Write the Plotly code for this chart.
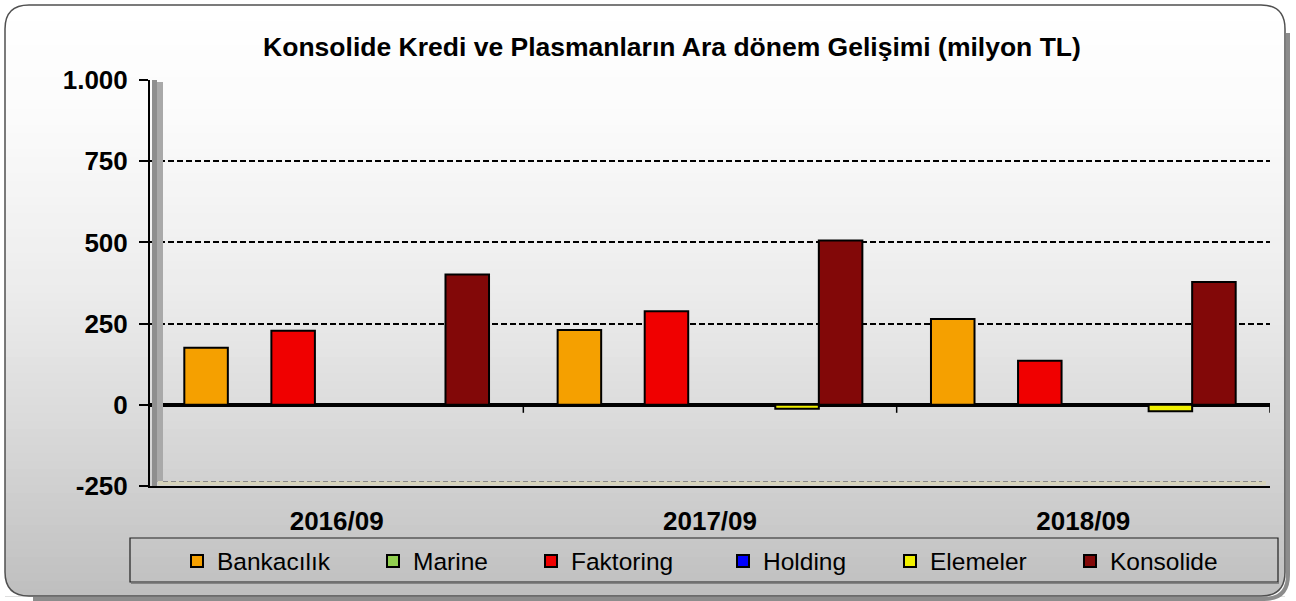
import plotly.graph_objects as go

# Data (milyon TL)
periods = ["2016/09", "2017/09", "2018/09"]
series_names = ["Bankacılık", "Marine", "Faktoring", "Holding", "Elemeler", "Konsolide"]
bankacilik = [176, 230, 264]
marine = [0, 0, 0]
faktoring = [228, 288, 136]
holding = [0, 0, 0]
elemeler = [0, -12, -20]
konsolide = [401, 506, 378]
y_tick_vals = [-250, 0, 250, 500, 750, 1000]
y_tick_text = ["-250", "0", "250", "500", "750", "1.000"]

series_values = [bankacilik, marine, faktoring, holding, elemeler, konsolide]

# Styles
colors = ["#F5A000", "#92D050", "#F00000", "#0000FF", "#F0F000", "#820808"]
slots = [0, 1, 2, 3, 5, 6]   # position of each series inside a group (7 slots)
n_slots = 7
slot_w = 0.1166
legend_left_px = [195, 391, 549, 741, 908, 1088]  # left edge of each legend swatch

W, H = 1296, 601
FONT = "Liberation Sans, Arial, sans-serif"


def px(x):
    return x / W


def py(y):
    return 1 - y / H


def pt(x, y):
    return f"{px(x):.5f},{py(y):.5f}"


def gray_at(y):
    stops = [(5, 255), (120, 251), (300, 235), (450, 214), (600, 190)]
    for (y0, g0), (y1, g1) in zip(stops, stops[1:]):
        if y <= y1:
            g = g0 + (g1 - g0) * (y - y0) / (y1 - y0)
            break
    else:
        g = stops[-1][1]
    g = int(round(g))
    return f"rgb({g},{g},{g})"


fig = go.Figure()

for i, (name, vals, color, slot) in enumerate(zip(series_names, series_values, colors, slots)):
    fig.add_trace(go.Bar(
        x=periods,
        y=vals,
        name=name,
        legend="legend" if i == 0 else f"legend{i + 1}",
        offset=(slot - n_slots / 2) * slot_w,
        width=slot_w,
        marker=dict(color=color, line=dict(color="black", width=2)),
        hovertemplate="%{x}<br>" + name + ": %{y}<extra></extra>",
    ))

shapes = []

# frame background gradient
fx0, fy0, fx1, fy1, r = 5, 5, 1285, 596, 24
band = 8
y = fy0
while y < fy1:
    y2 = min(y + band, fy1)
    shapes.append(dict(type="rect", xref="paper", yref="paper", layer="below",
                       x0=px(fx0), x1=px(fx1), y0=py(y2 + 0.5), y1=py(y),
                       fillcolor=gray_at((y + y2) / 2), line=dict(width=0)))
    y = y2

# white corner masks for the rounded frame
for cx, cy, dx, dy in [(fx0, fy0, 1, 1), (fx1, fy0, -1, 1), (fx0, fy1, 1, -1), (fx1, fy1, -1, -1)]:
    path = (f"M{pt(cx, cy + dy * r)} L{pt(cx, cy)} L{pt(cx + dx * r, cy)} "
            f"Q{pt(cx, cy)} {pt(cx, cy + dy * r)} Z")
    shapes.append(dict(type="path", xref="paper", yref="paper", layer="below", path=path,
                       fillcolor="white", line=dict(width=0)))

# shadow on bottom/right of frame
shadow = (f"M{pt(fx1 + 3, fy0 + r + 4)} L{pt(fx1 + 3, fy1 - r + 3)} "
          f"Q{pt(fx1 + 3, fy1 + 3)} {pt(fx1 - r + 3, fy1 + 3)} L{pt(fx0 + r + 4, fy1 + 3)}")
shapes.append(dict(type="path", xref="paper", yref="paper", layer="below", path=shadow,
                   line=dict(color="#8c8c8c", width=4)))

frame = (f"M{pt(fx0 + r, fy0)} L{pt(fx1 - r, fy0)} Q{pt(fx1, fy0)} {pt(fx1, fy0 + r)} "
         f"L{pt(fx1, fy1 - r)} Q{pt(fx1, fy1)} {pt(fx1 - r, fy1)} "
         f"L{pt(fx0 + r, fy1)} Q{pt(fx0, fy1)} {pt(fx0, fy1 - r)} "
         f"L{pt(fx0, fy0 + r)} Q{pt(fx0, fy0)} {pt(fx0 + r, fy0)} Z")
shapes.append(dict(type="path", xref="paper", yref="paper", layer="below", path=frame,
                   line=dict(color="#505050", width=1.5)))

# 3D-like side wall and floor
shapes.append(dict(type="rect", xref="paper", yref="paper", layer="above",
                   x0=px(152), x1=px(157), y0=py(486), y1=py(80),
                   fillcolor="#8e8e8e", line=dict(width=0)))
shapes.append(dict(type="rect", xref="paper", yref="paper", layer="above",
                   x0=px(157), x1=px(163), y0=py(482), y1=py(82),
                   fillcolor="#a9a9a9", line=dict(width=0)))
shapes.append(dict(type="rect", xref="paper", yref="paper", layer="above",
                   x0=px(158), x1=px(1266), y0=py(485), y1=py(481),
                   fillcolor="#d6d3ba", line=dict(width=0)))
shapes.append(dict(type="line", xref="paper", yref="paper", layer="above",
                   x0=px(163), x1=px(1262), y0=py(481.5), y1=py(481.5),
                   line=dict(color="#8a8a8a", width=1.2, dash="5px,3px")))

# category boundary ticks hanging under the zero line
for i in range(len(periods)):
    shapes.append(dict(type="line", xref="x", yref="y", layer="above",
                       x0=i + 0.5, x1=i + 0.5, ysizemode="pixel", yanchor=0, y0=0, y1=-8,
                       line=dict(color="black", width=1.5)))

# legend box
shapes.append(dict(type="rect", xref="paper", yref="paper", layer="below",
                   x0=px(130), x1=px(1278), y0=py(582), y1=py(538),
                   line=dict(color="#202020", width=1.2)))
shapes.append(dict(type="line", xref="paper", yref="paper", layer="below",
                   x0=px(131), x1=px(1279), y0=py(583), y1=py(583),
                   line=dict(color="#707070", width=1.5)))

legends = {}
for i, lx in enumerate(legend_left_px):
    key = "legend" if i == 0 else f"legend{i + 1}"
    legends[key] = dict(
        orientation="h",
        x=px(lx - 18), y=py(561),
        xanchor="left", yanchor="middle",
        bgcolor="rgba(0,0,0,0)",
        borderwidth=0,
        font=dict(family=FONT, size=24.5, color="black"),
        itemclick=False, itemdoubleclick=False,
    )

y_lo, y_hi = -250, 1000

fig.update_layout(
    width=W,
    height=H,
    autosize=False,
    margin=dict(l=0, r=0, t=0, b=0, autoexpand=False),
    paper_bgcolor="white",
    plot_bgcolor="rgba(0,0,0,0)",
    barmode="overlay",
    showlegend=True,
    font=dict(family=FONT, color="black"),
    title=dict(
        text="Konsolide Kredi ve Plasmanların Ara dönem Gelişimi (milyon TL)",
        x=px(672), y=py(47), xref="paper", yref="paper",
        xanchor="center", yanchor="middle",
        font=dict(family=FONT, size=26.5, weight="bold", color="black"),
        automargin=False,
    ),
    xaxis=dict(
        type="category",
        categoryorder="array",
        categoryarray=periods,
        range=[-0.5, len(periods) - 0.5],
        domain=[px(150), px(1270)],
        automargin=False,
        showline=True, linecolor="black", linewidth=2,
        ticks="", showgrid=False, zeroline=False,
        tickfont=dict(family=FONT, size=26, weight="bold"),
        ticklabelstandoff=11,
    ),
    yaxis=dict(
        range=[y_lo, y_hi],
        domain=[py(486), py(80)],
        automargin=False,
        tickmode="array",
        tickvals=y_tick_vals,
        ticktext=y_tick_text,
        ticks="outside", ticklen=9, tickcolor="black", tickwidth=1.5,
        showline=True, linecolor="black", linewidth=2,
        showgrid=True, gridcolor="black", gridwidth=2, griddash="6px,3px",
        zeroline=True, zerolinecolor="black", zerolinewidth=4,
        tickfont=dict(family=FONT, size=26, weight="bold"),
        ticklabelstandoff=6,
    ),
    shapes=shapes,
    **legends,
)

fig.write_html("out.html", config={"displayModeBar": False},
               post_script="document.body.style.margin='0';")
